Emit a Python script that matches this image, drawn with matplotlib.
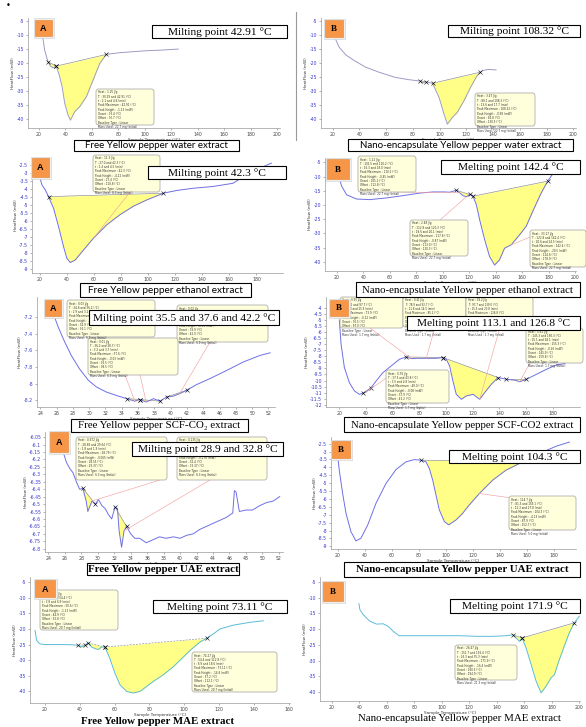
import numpy as np
import matplotlib
matplotlib.use("Agg")
import matplotlib.pyplot as plt
from matplotlib.patches import Rectangle, FancyBboxPatch, ConnectionPatch
from matplotlib.ticker import FuncFormatter

plt.rcParams['axes.unicode_minus'] = False

# ---------------- data ----------------
# A1 free yellow pepper water extract
A1_T = [23.0, 24.3, 26.8, 28.5, 30.5, 33.0, 35.5, 37.5, 39.5, 42.0, 43.8, 47.0, 50.8, 55.9, 61.0, 66.0, 71.0, 81.0, 91.0, 101.0, 111.5, 125.4]
A1_HF = [-11.2, -15.4, -19.5, -21.0, -21.7, -21.1, -24.5, -28.5, -34.4, -38.6, -40.4, -37.4, -35.6, -32.0, -26.0, -20.1, -16.9, -16.3, -15.95, -15.6, -15.4, -15.0]
A1_PEAKS = [(26.8, 33.0), (33.0, 71.0)]

# B1 nano-encapsulated water extract
B1_T = [21.7, 24.9, 29.9, 36.1, 44.7, 54.6, 67.0, 76.9, 85.5, 87.5, 89.7, 94.7, 99.6, 103.3, 105.8, 109.5, 113.2, 118.2, 123.1, 128.0, 130.5, 132.3, 136.7, 142.2]
B1_HF = [-10.9, -14.3, -17.1, -19.1, -21.5, -23.3, -25.2, -26.0, -26.5, -27.2, -26.8, -27.3, -32.4, -38.4, -42.0, -39.6, -37.8, -33.6, -28.8, -24.6, -23.3, -22.7, -22.3, -22.5]
B1_PEAKS = [(85.5, 89.7), (94.7, 130.5)]

# A2 free ethanol extract
A2_T = [20.0, 21.7, 24.2, 26.6, 30.3, 34.0, 37.7, 40.1, 42.6, 46.3, 52.4, 59.8, 69.6, 79.4, 89.2, 99.0, 106.4, 111.3, 121.1, 133.4, 148.1, 162.8, 172.6, 182.5, 191.0]
A2_HF = [-3.23, -3.75, -4.06, -4.48, -5.2, -6.35, -7.6, -8.31, -8.58, -8.42, -7.8, -7.06, -6.23, -5.6, -5.08, -4.69, -4.44, -4.27, -4.1, -3.96, -3.85, -3.65, -3.12, -2.71, -2.4]
A2_PEAKS = [(26.6, 111.3)]

# B2 nano-encapsulated ethanol extract
B2_T = [21.8, 23.8, 27.5, 35.0, 45.1, 57.6, 70.1, 82.7, 92.7, 101.5, 105.2, 110.2, 112.8, 115.3, 117.8, 120.3, 122.8, 125.3, 127.8, 131.6, 135.3, 139.1, 142.8, 146.6, 151.6, 157.9, 162.9, 167.9, 174.2, 179.2, 184.2]
B2_HF = [-10.5, -13.4, -16.4, -17.9, -18.1, -17.5, -16.7, -15.8, -15.4, -15.4, -15.5, -14.8, -15.7, -16.7, -17.1, -16.3, -16.9, -19.8, -25.1, -32.2, -38.1, -41.1, -39.3, -35.2, -34.0, -30.5, -27.5, -22.2, -15.8, -11.6, -8.2]
B2_PEAKS = [(110.2, 120.3), (122.8, 179.2)]

# A3 free SCF-CO2 extract
A3_T = [25.6, 26.2, 27.0, 27.8, 28.8, 29.9, 30.9, 32.1, 33.3, 34.6, 35.6, 36.2, 37.0, 37.9, 38.7, 39.5, 40.3, 41.1, 41.95, 43.2, 44.8, 46.9, 48.9, 51.0, 52.2]
A3_HF = [-7.16, -7.32, -7.5, -7.66, -7.82, -7.96, -8.04, -8.1, -8.14, -8.18, -8.21, -8.19, -8.22, -8.18, -8.21, -8.16, -8.15, -8.12, -8.08, -8.01, -7.94, -7.84, -7.74, -7.66, -7.63]
A3_PEAKS = [(34.6, 36.2), (36.2, 38.7), (39.5, 41.95)]

# B3 nano-encapsulated SCF-CO2 extract
B3_T = [20.0, 21.3, 23.8, 27.5, 31.3, 35.0, 37.5, 40.0, 43.8, 47.6, 52.6, 58.8, 65.1, 70.1, 73.9, 78.9, 85.2, 92.7, 97.7, 100.2, 102.7, 105.2, 107.7, 111.5, 115.2, 120.3, 125.3, 129.0, 134.0, 139.0, 145.3, 151.6, 155.3, 160.3, 167.9, 175.4, 182.9, 189.2]
B3_HF = [-5.0, -7.0, -8.93, -10.17, -10.86, -11.14, -11.05, -10.95, -10.59, -10.04, -9.35, -8.8, -8.24, -8.05, -8.19, -8.16, -8.16, -8.16, -8.1, -8.24, -8.79, -10.04, -11.14, -11.55, -11.28, -11.14, -11.55, -11.0, -10.31, -9.75, -9.9, -9.97, -10.1, -9.9, -9.48, -9.07, -8.7, -8.6]
B3_PEAKS = [(37.5, 43.8), (70.1, 97.7), (97.7, 139.0), (145.3, 160.3)]

# A4 free UAE extract
A4_T = [25.4, 25.8, 26.2, 26.6, 27.0, 27.4, 27.8, 28.2, 28.6, 28.8, 29.3, 29.7, 30.1, 30.5, 30.9, 31.3, 31.7, 32.1, 32.4, 32.6, 32.9, 33.2, 33.5, 34.0, 34.5, 35.1, 35.9, 36.7, 37.5, 38.3, 39.2, 40.0, 40.8, 41.6, 42.4, 43.2, 44.4, 45.6, 46.4, 46.6, 46.8, 47.2, 48.0, 48.8, 49.7, 50.5, 51.3, 52.1]
A4_HF = [-6.095, -6.15, -6.22, -6.26, -6.29, -6.35, -6.40, -6.395, -6.48, -6.55, -6.48, -6.50, -6.47, -6.51, -6.53, -6.57, -6.60, -6.52, -6.53, -6.68, -6.79, -6.68, -6.65, -6.70, -6.73, -6.73, -6.76, -6.74, -6.72, -6.73, -6.72, -6.73, -6.71, -6.70, -6.67, -6.65, -6.62, -6.59, -6.56, -6.41, -6.42, -6.55, -6.54, -6.54, -6.51, -6.49, -6.48, -6.45]
A4_PEAKS = [(28.2, 29.7), (32.1, 33.5)]

# B4 nano-encapsulated UAE extract
B4_T = [20.0, 21.2, 23.7, 26.2, 29.8, 33.5, 37.2, 42.2, 48.3, 55.7, 63.1, 70.5, 76.7, 81.5, 85.2, 87.7, 90.2, 92.6, 95.1, 98.8, 102.0, 107.4, 112.3, 117.2, 124.6, 134.5, 144.3, 154.2, 159.1, 168.9, 181.2, 191.1]
B4_HF = [-3.23, -4.18, -5.66, -6.92, -8.07, -8.66, -8.49, -7.65, -6.28, -5.02, -4.14, -3.65, -3.51, -3.55, -3.65, -4.07, -4.81, -5.75, -6.7, -7.43, -7.64, -7.33, -6.91, -6.38, -5.66, -4.81, -4.18, -3.76, -3.59, -3.13, -2.67, -2.4]
B4_PEAKS = [(81.5, 159.1)]

# A5 free MAE extract
A5_T = [14.3, 15.2, 17.1, 20.0, 24.8, 30.5, 36.3, 39.1, 41.1, 43.0, 44.9, 46.8, 48.7, 50.6, 52.5, 54.4, 57.3, 60.2, 63.1, 66.9, 70.7, 74.5, 78.4, 82.2, 87.9, 93.7, 98.5, 103.3, 109.0, 112.8, 116.7, 120.5, 128.1, 137.7, 145.4]
A5_HF = [-20.5, -23.7, -24.8, -25.0, -25.0, -25.0, -25.1, -25.3, -25.8, -25.1, -24.5, -25.8, -26.3, -26.6, -25.8, -25.8, -29.5, -34.2, -37.9, -40.0, -40.5, -40.0, -38.4, -36.8, -34.7, -32.1, -29.5, -26.9, -24.2, -23.0, -21.6, -20.0, -18.8, -17.9, -17.4]
A5_PEAKS = [(39.1, 43.0), (44.9, 54.4), (54.4, 112.8)]

# B5 nano-encapsulated MAE extract
B5_T = [39.8, 40.5, 42.9, 47.8, 52.6, 57.4, 61.1, 64.7, 69.0, 76.8, 88.9, 101.0, 113.0, 125.1, 137.2, 146.8, 151.7, 154.1, 156.5, 158.4, 161.3, 165.0, 168.6, 172.2, 175.8, 179.5, 181.9, 185.5, 189.1, 192.7, 196.4, 200.0]
B5_HF = [-11.9, -13.8, -15.4, -17.5, -18.4, -18.3, -19.1, -20.7, -22.1, -22.1, -22.1, -22.1, -22.1, -22.3, -22.3, -22.1, -21.8, -22.8, -23.9, -22.8, -26.0, -31.3, -36.6, -40.3, -38.2, -35.5, -34.5, -29.7, -25.4, -21.2, -18.0, -15.9]
B5_PEAKS = [(151.7, 158.4), (158.4, 196.4)]

MELT = ["Milting point 42.91 \u00b0C", "Milting point 108.32 \u00b0C",
        "Milting point 42.3 \u00b0C", "Melting point 142.4 \u00b0C",
        "Milting point 35.5 and 37.6 and 42.2 \u00b0C", "Melting point 113.1 and 126.8 \u00b0C",
        "Milting point 28.9 and 32.8 \u00b0C", "Melting point 104.3 \u00b0C",
        "Melting point 73.11 \u00b0C", "Melting point 171.9 \u00b0C"]
CAPTIONS = ["Free Yellow pepper water extract", "Nano-encapsulate Yellow pepper water extract",
            "Free Yellow pepper ethanol extract", "Nano-encapsulate Yellow pepper ethanol extract",
            "Free Yellow pepper SCF-CO\u2082 extract", "Nano-encapsulate Yellow pepper SCF-CO2 extract",
            "Free Yellow pepper UAE extract", "Nano-encapsulate Yellow pepper UAE extract",
            "Free Yellow pepper MAE extract", "Nano-encapsulate Yellow pepper MAE extract"]

# ---------------- figure helpers ----------------
W, H = 586, 727
fig = plt.figure(figsize=(W / 100, H / 100), dpi=100)
SERIF = ['Liberation Serif', 'DejaVu Serif']
SANS = ['Lato', 'DejaVu Sans']


def fr(x0, y0, x1, y1):
    return [x0 / W, 1 - y1 / H, (x1 - x0) / W, (y1 - y0) / H]


def box(x0, y0, x1, y1, fc='white', ec='black', lw=0.8, z=3):
    fig.add_artist(Rectangle((x0 / W, 1 - y1 / H), (x1 - x0) / W, (y1 - y0) / H,
                             transform=fig.transFigure, fc=fc, ec=ec, lw=lw, zorder=z))


def ftext(x, y, s, **kw):
    fig.text(x / W, 1 - y / H, s, **kw)


def panel(rect, xlim, ylim, xt, yt, T, HF, peaks, color, dashed=False):
    ax = fig.add_axes(fr(*rect))
    ax.set_xlim(xlim)
    ax.set_ylim(ylim)
    ax.set_xticks(xt)
    ax.set_yticks(yt)
    T = np.asarray(T, float)
    HF = np.asarray(HF, float)
    for t0, t1 in peaks:
        m = (T >= t0) & (T <= t1)
        h0 = HF[T == t0][0]
        h1 = HF[T == t1][0]
        base = h0 + (h1 - h0) * (T[m] - t0) / (t1 - t0)
        ax.fill_between(T[m], HF[m], base, where=HF[m] <= base + 1e-9, interpolate=True,
                        color='#ffff88', lw=0, zorder=1)
        ax.plot([t0, t1], [h0, h1], color='#8a8a8a', lw=0.45, ls=(0, (3, 2)) if dashed else '-', zorder=2)
        ax.plot([t0, t1], [h0, h1], ls='none', marker='x', ms=2.2, mew=0.4, color='k', zorder=3)
    ax.plot(T, HF, color=color, lw=0.7, zorder=2)
    for s in ['top', 'right']:
        ax.spines[s].set_visible(False)
    for s in ['left', 'bottom']:
        ax.spines[s].set_color('#9a9a9a')
        ax.spines[s].set_linewidth(0.5)
    ax.tick_params(labelsize=3.3, length=1.5, width=0.4, pad=1.2, colors='#777777')
    ax.tick_params(axis='y', labelcolor='#3a3ad0')
    ax.tick_params(axis='x', labelcolor='#444444')
    ax.yaxis.set_major_formatter(FuncFormatter(lambda v, p: f"{round(v, 3):g}"))
    ax.xaxis.set_major_formatter(FuncFormatter(lambda v, p: f"{round(v, 3):g}"))
    ax.set_xlabel('Sample Temperature (\u00b0C)', fontsize=3, labelpad=0.8, color='#333333')
    ax.set_ylabel('HeatFlow (mW)', fontsize=3, labelpad=1.2, color='#333333')
    ax.patch.set_alpha(0)
    return ax


def label(x0, y0, x1, y1, s, fam):
    box(x0 - 1.5, y0 - 1.5, x1 + 1.5, y1 + 1.5, fc='#efefef', ec='#cfcfcf', lw=0.4, z=4)
    box(x0, y0, x1, y1, fc='#f79646', ec='#e3822f', lw=0.4, z=4.1)
    ftext((x0 + x1) / 2, (y0 + y1) / 2 + 0.5, s, ha='center', va='center', fontsize=6.5,
          fontweight='bold', family=fam, zorder=4.2)


def melt(x0, y0, x1, y1, s, size=8.2):
    box(x0, y0, x1, y1, fc='white', ec='black', lw=0.8, z=3)
    ftext((x0 + x1) / 2, (y0 + y1) / 2 + 0.5, s, ha='center', va='center', fontsize=size,
          family=SERIF, zorder=3.2)


def caption(x0, y0, x1, y1, s, fam, size=7.3, weight='normal', framed=True):
    if framed:
        box(x0, y0, x1, y1, fc='white', ec='black', lw=0.8, z=3)
    ftext((x0 + x1) / 2, (y0 + y1) / 2 + 0.5, s, ha='center', va='center', fontsize=size,
          family=fam, fontweight=weight, zorder=3.2)


def info(x0, y0, x1, y1, heat, t1, t2, pk, ph, on, off, mass):
    fig.add_artist(FancyBboxPatch((x0 / W, 1 - y1 / H), (x1 - x0) / W, (y1 - y0) / H,
                                  boxstyle='round,pad=0,rounding_size=0.004',
                                  transform=fig.transFigure, fc='#ffffdc', ec='#a0a0a0', lw=0.5, zorder=2))
    s = (f"Heat : {heat} J/g\nT : {t1} and {t2} (\u00b0C)\nt : {round((t1 - 20) / 5, 1)} and {round((t2 - 20) / 5, 1)} (min)\n"
         f"Peak Maximum : {pk} (\u00b0C)\nPeak Height : {ph} (mW)\nOnset : {on} (\u00b0C)\n"
         f"Offset : {off} (\u00b0C)\nBaseline Type : Linear\nMass Used : {mass} mg (Initial)")
    n = 9
    fs = min(2.0, (y1 - y0 - 3) / (n * 1.15 * 1.389))
    ftext(x0 + 2, y0 + 1.5, s, ha='left', va='top', fontsize=fs, linespacing=1.1,
          color='#333333', zorder=2.1)


def connect(ax, xp, yp, T, HF, t):
    cp = ConnectionPatch(xyA=(xp / W, 1 - yp / H), coordsA=fig.transFigure,
                         xyB=(t, float(np.interp(t, T, HF))), coordsB=ax.transData,
                         color='#f2a3a3', lw=0.45, zorder=1.5)
    fig.add_artist(cp)


CURVE = '#6f6fe6'
GREY_CURVE = '#9c9cc6'
CYAN = '#5bbcd8'

# ---------------- row 1 ----------------
ax = panel((28, 18, 280, 128), (11.7, 202.3), (-43.2, -3.9), np.arange(20, 201, 20), np.arange(-40, -4, 5),
           A1_T, A1_HF, A1_PEAKS, GREY_CURVE)
info(96, 89, 154, 125, 1.25, 30.29, 42.91, 42.91, -1.13, 33.40, 70.70, 22.7)
ax = panel((321, 18, 576, 128), (11.3, 202), (-43.4, -3.8), np.arange(20, 201, 20), np.arange(-40, -4, 5),
           B1_T, B1_HF, B1_PEAKS, GREY_CURVE)
info(475, 93, 535, 126, 3.47, 88.1, 108.3, 108.32, -0.98, 94.8, 130.5, 22.7)

# ---------------- row 2 ----------------
ax = panel((32, 158, 283, 273), (14.4, 199.6), (-9.23, -2.08), np.arange(20, 181, 20), np.arange(-9, -2.4, 0.5),
           A2_T, A2_HF, A2_PEAKS, CURVE)
connect(ax, 130, 192, A2_T, A2_HF, 59.8)
info(93, 155, 160, 192, 11.3, 27.0, 42.3, 42.3, -4.12, 27.4, 110.8, 8.3)
ax = panel((325, 158, 576, 271), (11.2, 200.5), (-43.2, -3.47), np.arange(20, 201, 20), np.arange(-40, -4, 5),
           B2_T, B2_HF, B2_PEAKS, CURVE)
connect(ax, 400, 192, B2_T, B2_HF, 112.8)
connect(ax, 440, 220, B2_T, B2_HF, 117.8)
connect(ax, 535, 235, B2_T, B2_HF, 151.6)
info(358, 156, 416, 192, 1.12, 101.5, 110.2, 110.2, -0.45, 105.2, 112.8, 22.7)
info(410, 220, 468, 256, 2.48, 112.8, 120.3, 117.8, -0.87, 113.0, 120.3, 22.7)
info(530, 230, 586, 267, 33.17, 122.8, 142.4, 142.4, -20.5, 124.6, 178.9, 22.7)

# ---------------- row 3 ----------------
ax = panel((37, 297, 275, 407), (23.6, 52.8), (-8.28, -6.96), np.arange(24, 53, 2), np.arange(-8.2, -7.1, 0.2),
           A3_T, A3_HF, A3_PEAKS, CURVE)
connect(ax, 125, 375, A3_T, A3_HF, 35.6)
connect(ax, 140, 375, A3_T, A3_HF, 37.0)
connect(ax, 210, 342, A3_T, A3_HF, 41.1)
info(67, 300, 155, 337, 0.03, 34.6, 36.2, 35.5, -0.02, 34.9, 36.1, 6.9)
info(177, 305, 268, 342, 0.02, 39.5, 42.2, 42.2, -0.01, 39.9, 42.0, 6.9)
info(88, 338, 178, 375, 0.01, 36.2, 38.7, 37.6, -0.03, 36.5, 38.5, 6.9)
ax = panel((326, 297, 580, 407), (10, 200.5), (-12.19, -3.09), np.arange(20, 181, 20), np.arange(-12, -3.9, 0.5),
           B3_T, B3_HF, B3_PEAKS, CURVE)
connect(ax, 395, 372, B3_T, B3_HF, 40.0)
connect(ax, 370, 328, B3_T, B3_HF, 73.9)
connect(ax, 435, 327, B3_T, B3_HF, 85.2)
connect(ax, 500, 327, B3_T, B3_HF, 125.3)
connect(ax, 530, 363, B3_T, B3_HF, 155.3)
info(340, 297, 403, 328, 0.95, 70.1, 97.7, 73.9, -0.12, 70.5, 97.0, 1.7)
info(403, 297, 466, 327, 0.41, 78.9, 92.7, 85.2, -0.05, 79.2, 92.5, 1.7)
info(466, 297, 533, 327, 18.2, 97.7, 139.0, 126.8, -1.52, 99.5, 138.1, 1.7)
info(526, 328, 583, 363, 0.61, 145.3, 160.3, 155.3, -0.16, 145.9, 159.8, 1.7)
info(386, 370, 449, 403, 0.76, 37.5, 43.8, 40.0, -0.08, 37.9, 43.2, 1.7)

# ---------------- row 4 ----------------
ax = panel((45, 432, 283, 552), (23.6, 52.5), (-6.822, -6.016), np.arange(24, 53, 2), np.arange(-6.8, -6.04, 0.05),
           A4_T, A4_HF, A4_PEAKS, CURVE)
connect(ax, 160, 480, A4_T, A4_HF, 29.3)
connect(ax, 210, 480, A4_T, A4_HF, 33.2)
info(76, 437, 167, 480, 0.672, 28.86, 29.64, 28.79, -0.065, 28.55, 29.37, 6.3)
info(177, 437, 267, 480, 0.135, 32.4, 33.5, 32.8, -0.176, 32.4, 33.37, 6.3)
ax = panel((331, 437, 576, 549), (15.1, 196), (-9.17, -2.08), np.arange(20, 181, 20), np.arange(-9, -2.4, 0.5),
           B4_T, B4_HF, B4_PEAKS, CURVE)
connect(ax, 512, 498, B4_T, B4_HF, 124.6)
info(509, 496, 576, 530, 114.7, 81.5, 159.1, 104.3, -4.13, 87.9, 152.7, 5.0)

# ---------------- row 5 ----------------
ax = panel((30, 577, 290, 703), (11.4, 160.7), (-43.7, -3.4), np.arange(20, 161, 20), np.arange(-40, -4, 5),
           A5_T, A5_HF, A5_PEAKS, CYAN, dashed=True)
info(40, 590, 118, 630, 1.71, 39.1, 54.4, 50.6, -1.13, 44.9, 53.8, 20.7)
info(192, 652, 277, 692, 74.27, 54.4, 112.8, 73.11, -14.6, 57.2, 112.1, 20.7)
ax = panel((320, 577, 580, 701), (11.5, 200.5), (-42.9, -3.4), np.arange(20, 201, 20), np.arange(-40, -4, 5),
           B5_T, B5_HF, B5_PEAKS, CYAN)
info(455, 645, 517, 680, 26.47, 151.7, 196.4, 171.9, -16.4, 160.5, 194.9, 21.3)

# ---------------- labels, melting point boxes and captions ----------------
LABELS = [(35, 20, 52, 36, 'A', ['Liberation Sans', 'DejaVu Sans']), (325, 20, 343, 37, 'B', SERIF),
          (32, 158, 49, 177, 'A', ['Liberation Sans', 'DejaVu Sans']), (327, 159, 349, 179, 'B', SERIF),
          (45, 300, 61, 316, 'A', ['Liberation Sans', 'DejaVu Sans']), (330, 300, 348, 316, 'B', SERIF),
          (50, 432, 68, 452, 'A', ['Liberation Sans', 'DejaVu Sans']), (332, 441, 350, 458, 'B', SERIF),
          (35, 580, 55, 597, 'A', ['Liberation Sans', 'DejaVu Sans']), (323, 582, 343, 601, 'B', SERIF)]
for x0, y0, x1, y1, s, fam in LABELS:
    label(x0, y0, x1, y1, s, fam)

MELT_BOXES = [(152, 25, 287, 38), (448, 25, 580, 37), (148, 166, 286, 179), (441, 160, 580, 174),
              (89, 310, 279, 325), (407, 316, 580, 330), (132, 442, 283, 456), (449, 450, 580, 463),
              (153, 600, 287, 613), (450, 599, 580, 613)]
for (x0, y0, x1, y1), s in zip(MELT_BOXES, MELT):
    melt(x0, y0, x1, y1, s)

caption(74, 140, 239, 151, CAPTIONS[0], SANS, size=7.0)
caption(348, 139, 573, 151, CAPTIONS[1], SANS, size=7.0)
caption(80, 283, 251, 297, CAPTIONS[2], SANS, size=7.2)
caption(356, 282, 580, 297, CAPTIONS[3], SERIF, size=7.8)
caption(71, 419, 248, 432, CAPTIONS[4], SERIF, size=7.8)
caption(344, 417, 580, 432, CAPTIONS[5], SERIF, size=7.8)
caption(87, 563, 239, 575, CAPTIONS[6], SERIF, size=7.8, weight='bold')
caption(344, 562, 580, 577, CAPTIONS[7], SERIF, size=7.8, weight='bold')
caption(70, 716, 246, 726, CAPTIONS[8], SERIF, size=7.8, weight='bold', framed=False)
caption(345, 712, 575, 724, CAPTIONS[9], SERIF, size=7.8, framed=False)

# decorations
ftext(8, 6, '\u2022', ha='center', va='center', fontsize=6)
fig.add_artist(plt.Line2D([296 / W, 296 / W], [1 - 12 / H, 1 - 140 / H], transform=fig.transFigure,
                          color='#9a9a9a', lw=0.8))

fig.savefig('out.png', dpi=100, facecolor='white')
